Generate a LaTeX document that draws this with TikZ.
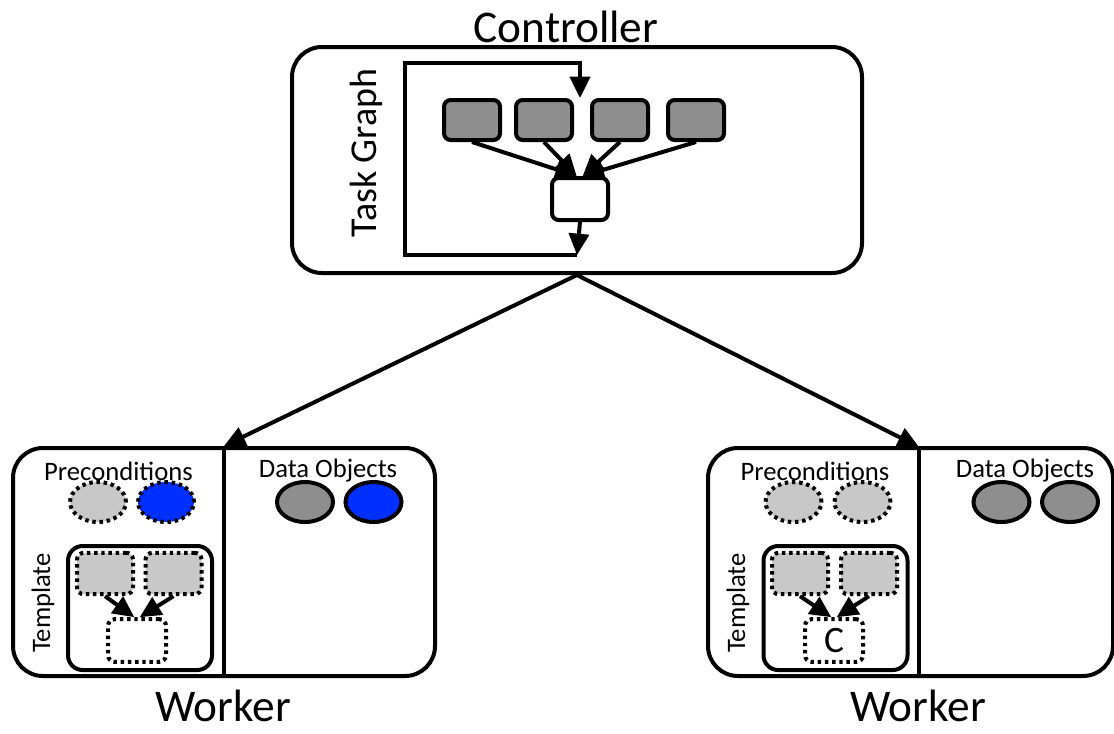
\documentclass[tikz,border=0pt]{standalone}
\usepackage{tikz}
\usetikzlibrary{arrows.meta,shapes.geometric}
\usepackage{fontspec}
\setmainfont{Carlito}
\definecolor{taskgray}{RGB}{142,142,142}
\definecolor{pregray}{RGB}{200,200,200}
\definecolor{objblue}{RGB}{0,48,255}

\begin{document}
\begin{tikzpicture}[x=0.75pt,y=0.75pt,yscale=-1,xscale=1,
  bigbox/.style={draw,line width=3pt,rounded corners=22.5pt,inner sep=0pt,minimum height=171pt},
  tplbox/.style={draw,line width=3pt,rounded corners=11pt,inner sep=0pt,minimum width=108pt,minimum height=93pt},
  taskbox/.style={draw,line width=3pt,rounded corners=5pt,inner sep=0pt,minimum width=42pt,minimum height=30pt},
  dotbox/.style={taskbox,dash pattern=on 2.6pt off 2.8pt,minimum height=31pt},
  obj/.style={ellipse,draw,line width=3pt,inner sep=0pt,minimum width=42pt,minimum height=30pt},
  precond/.style={obj,dash pattern=on 2.6pt off 2.8pt},
  conn/.style={line width=3pt,-{Triangle[length=16pt,width=15pt]}},
  bigtext/.style={font=\fontsize{34}{40}\selectfont,inner sep=0pt,text depth=0pt},
  midtext/.style={font=\fontsize{28.5}{34}\selectfont,inner sep=0pt},
  smalltext/.style={font=\fontsize{20}{24}\selectfont,inner sep=0pt}]
\useasboundingbox (0,0) rectangle (1114,733);

%Shape: Controller box
\node[bigbox,minimum width=427.5pt,minimum height=169.5pt] (ctrl) at (577,160) {};
%Shape: Worker boxes
\node[bigbox,minimum width=316.5pt] (lw) at (224,562) {};
\node[bigbox,minimum width=303.75pt] (rw) at (910.5,562) {};
\coordinate (rdivt) at (919,447);
\coordinate (rdivb) at (919,677);
%Straight Lines: dividers
\draw[line width=3pt] (lw.north) -- (lw.south);
\draw[line width=3pt] (rdivt) -- (rdivb);

%Shape: task graph
\node[taskbox,fill=taskgray] (t1) at (472,120) {};
\node[taskbox,fill=taskgray] (t2) at (544,120) {};
\node[taskbox,fill=taskgray] (t3) at (620,120) {};
\node[taskbox,fill=taskgray] (t4) at (696,120) {};
\node[taskbox,fill=white,minimum height=31.5pt] (tw) at (580,199) {};
\draw[conn] (t1.south) -- ([xshift=-2.5pt]tw.north);
\draw[conn] (t2.south) -- ([xshift=-2.5pt]tw.north);
\draw[conn] (t3.south) -- ([xshift=2pt]tw.north);
\draw[conn] (t4.south) -- ([xshift=2pt]tw.north);
%Straight Lines: loop back
\coordinate (lpb) at (577,255);
\coordinate (lp1) at (405,255);
\coordinate (lp2) at (405,63);
\coordinate (lp3) at (580,63);
\coordinate (lpt) at (580,98);
\draw[conn] (tw.south) -- (lpb);
\draw[conn] (lpb) -- (lp1) -- (lp2) -- (lp3) -- (lpt);

%Straight Lines: controller to workers
\draw[conn] (ctrl.south) -- (lw.north);
\draw[conn] (ctrl.south) -- (rdivt);

%Shape: left worker objects
\node[precond,fill=pregray] (lp1e) at (98,502) {};
\node[precond,fill=objblue] (lp2e) at (166,502) {};
\node[obj,fill=taskgray] (ld1) at (305,502) {};
\node[obj,fill=objblue] (ld2) at (373.5,502) {};
\node[tplbox] (ltpl) at (140,608) {};
\node[dotbox,fill=pregray] (la) at (105,573.5) {};
\node[dotbox,fill=pregray] (lb) at (173.5,573.5) {};
\node[dotbox,fill=white,minimum width=43.5pt,minimum height=32pt] (lc) at (137,640.5) {};
\draw[conn] (la.south) -- ([xshift=-2pt]lc.north);
\draw[conn] (lb.south) -- ([xshift=2pt]lc.north);

%Shape: right worker objects
\node[precond,fill=pregray] (rp1e) at (793.5,502) {};
\node[precond,fill=pregray] (rp2e) at (862.5,502) {};
\node[obj,fill=taskgray] (rd1) at (1001.5,502) {};
\node[obj,fill=taskgray] (rd2) at (1070,502) {};
\node[tplbox] (rtpl) at (835.5,608) {};
\node[dotbox,fill=pregray] (ra) at (800,573.5) {};
\node[dotbox,fill=pregray] (rb) at (869,573.5) {};
\node[dotbox,fill=white,minimum width=43.5pt,minimum height=32pt,font=\fontsize{28}{32}\selectfont] (rc) at (834,640.5) {C};
\draw[conn] (ra.south) -- ([xshift=-2pt]rc.north);
\draw[conn] (rb.south) -- ([xshift=2pt]rc.north);

% Text Node
\node[bigtext,anchor=base] (ctrllbl) at (566,42) {Controller};
% Text Node
\node[midtext,rotate=90] (tglbl) at (366,153) {Task Graph};
% Text Node
\node[smalltext,anchor=base] (lprelbl) at (118.5,480) {Preconditions};
\node[smalltext,anchor=base] (ldatalbl) at (328,477) {Data Objects};
\node[smalltext,rotate=90] (ltpllbl) at (43,603) {Template};
\node[bigtext,anchor=base] (lwlbl) at (223,721) {Worker};
% Text Node
\node[smalltext,anchor=base] (rprelbl) at (815,480) {Preconditions};
\node[smalltext,anchor=base] (rdatalbl) at (1025,477) {Data Objects};
\node[smalltext,rotate=90] (rtpllbl) at (738,603) {Template};
\node[bigtext,anchor=base] (rwlbl) at (918,721) {Worker};

\end{tikzpicture}
\end{document}
